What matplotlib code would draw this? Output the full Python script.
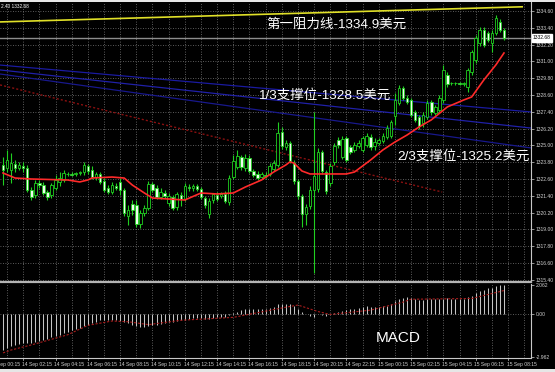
import matplotlib
matplotlib.use("Agg")
import matplotlib.pyplot as plt
import numpy as np
from matplotlib.transforms import blended_transform_factory
from matplotlib.patches import Rectangle

plt.rcParams['font.family'] = ['Liberation Sans', 'Noto Sans CJK SC', 'DejaVu Sans']

# 15-minute XAUUSD bars, 14 Sep 01:00 .. 15 Sep 08:00
opens = [1323.60, 1323.39, 1323.24, 1323.67, 1323.39, 1323.53, 1323.39, 1321.82, 1321.46, 1322.32,
         1322.17, 1321.67, 1321.46, 1321.96, 1322.39, 1322.53, 1322.96, 1322.96, 1322.96, 1323.03,
         1323.10, 1323.53, 1323.24, 1322.74, 1322.96, 1322.46, 1321.96, 1321.67, 1322.10, 1322.39,
         1321.82, 1319.96, 1320.82, 1320.74, 1319.39, 1320.17, 1320.53, 1322.24, 1321.96, 1321.32,
         1321.60, 1320.89, 1321.32, 1320.60, 1321.46, 1321.17, 1322.03, 1321.96, 1322.10, 1321.89,
         1321.24, 1320.10, 1321.10, 1321.46, 1321.39, 1321.53, 1320.96, 1322.74, 1323.46, 1324.17,
         1323.39, 1324.10, 1323.17, 1322.96, 1322.74, 1322.89, 1322.96, 1323.32, 1323.60, 1325.96,
         1324.89, 1325.17, 1323.74, 1322.46, 1321.39, 1320.10, 1320.67, 1321.82, 1321.89, 1324.53,
         1323.10, 1322.32, 1323.82, 1325.39, 1324.17, 1325.53, 1324.89, 1324.67, 1324.96, 1324.67,
         1325.03, 1325.60, 1324.96, 1325.17, 1325.32, 1325.60, 1325.67, 1327.10, 1328.03, 1329.10,
         1328.39, 1328.24, 1327.39, 1327.03, 1326.60, 1327.03, 1328.10, 1327.32, 1327.53, 1328.24,
         1330.03, 1329.46, 1329.43, 1329.46, 1329.39, 1329.17, 1330.25, 1331.10, 1332.32, 1333.24,
         1333.03, 1332.32, 1333.03, 1333.82, 1333.24]
highs = [1324.17, 1324.67, 1324.46, 1323.96, 1323.82, 1323.82, 1323.60, 1322.03, 1322.53, 1322.53,
         1322.39, 1321.82, 1322.32, 1322.89, 1323.10, 1323.24, 1323.10, 1323.10, 1323.10, 1323.17,
         1323.82, 1323.67, 1323.53, 1323.10, 1323.10, 1322.67, 1322.17, 1322.39, 1322.32, 1322.67,
         1321.96, 1320.74, 1321.10, 1321.10, 1320.39, 1320.74, 1322.46, 1322.39, 1322.17, 1321.96,
         1321.82, 1321.60, 1321.46, 1321.67, 1321.67, 1322.32, 1322.24, 1322.24, 1322.24, 1322.03,
         1321.39, 1321.24, 1321.60, 1321.67, 1321.67, 1321.74, 1322.89, 1324.32, 1324.67, 1324.32,
         1324.39, 1324.32, 1323.32, 1323.17, 1323.10, 1323.10, 1323.74, 1323.96, 1326.67, 1326.32,
         1325.39, 1325.32, 1323.96, 1322.60, 1321.53, 1320.82, 1322.10, 1327.39, 1324.82, 1324.67,
         1323.24, 1323.74, 1325.17, 1325.60, 1325.67, 1325.67, 1325.03, 1325.24, 1325.39, 1325.67,
         1325.89, 1325.82, 1325.53, 1325.53, 1325.89, 1326.46, 1326.82, 1328.75, 1329.32, 1329.25,
         1328.60, 1328.39, 1327.53, 1327.17, 1327.39, 1328.24, 1328.24, 1327.89, 1328.60, 1330.75,
         1330.25, 1329.53, 1329.53, 1329.53, 1329.53, 1330.53, 1331.82, 1332.89, 1333.46, 1333.46,
         1333.17, 1333.24, 1334.32, 1334.03, 1333.39]
lows = [1322.17, 1323.10, 1322.32, 1323.10, 1323.24, 1323.10, 1321.67, 1321.10, 1321.24, 1321.96,
        1321.46, 1321.10, 1321.24, 1321.82, 1322.10, 1322.39, 1322.82, 1322.82, 1322.82, 1322.89,
        1322.89, 1322.96, 1322.60, 1322.53, 1322.24, 1321.67, 1321.53, 1321.53, 1321.82, 1321.46,
        1319.96, 1319.32, 1320.03, 1319.17, 1319.10, 1319.96, 1320.39, 1321.67, 1321.17, 1321.17,
        1321.24, 1320.67, 1320.39, 1320.39, 1320.67, 1321.03, 1321.74, 1321.74, 1321.74, 1321.17,
        1320.53, 1319.82, 1320.89, 1321.03, 1321.24, 1320.89, 1320.74, 1322.60, 1323.32, 1323.24,
        1323.17, 1323.03, 1322.74, 1322.53, 1322.60, 1322.67, 1322.82, 1323.17, 1323.46, 1324.74,
        1324.67, 1323.74, 1322.24, 1321.17, 1319.17, 1319.32, 1320.46, 1315.89, 1321.67, 1322.96,
        1321.53, 1322.10, 1323.60, 1324.82, 1324.03, 1323.82, 1324.39, 1324.53, 1324.82, 1324.53,
        1324.89, 1324.67, 1324.67, 1325.03, 1325.17, 1325.46, 1325.53, 1326.46, 1327.89, 1328.24,
        1327.96, 1327.03, 1326.67, 1326.17, 1326.32, 1326.89, 1327.17, 1327.17, 1327.39, 1328.03,
        1329.17, 1329.32, 1329.32, 1329.32, 1329.25, 1328.82, 1330.03, 1330.89, 1332.10, 1332.03,
        1332.39, 1331.67, 1332.89, 1333.10, 1332.53]
closes = [1323.24, 1323.96, 1323.74, 1323.39, 1323.60, 1323.39, 1321.82, 1321.32, 1322.32, 1322.17,
          1321.60, 1321.32, 1322.17, 1322.53, 1322.67, 1323.03, 1322.95, 1322.92, 1323.03, 1323.10,
          1323.60, 1323.17, 1322.74, 1322.96, 1322.39, 1321.82, 1321.67, 1322.17, 1321.96, 1321.82,
          1320.17, 1320.39, 1320.39, 1319.39, 1320.17, 1320.53, 1322.24, 1321.82, 1321.32, 1321.67,
          1321.39, 1321.39, 1320.53, 1321.53, 1321.17, 1322.10, 1321.96, 1322.10, 1321.89, 1321.32,
          1320.74, 1321.03, 1321.53, 1321.17, 1321.53, 1321.03, 1322.67, 1323.89, 1324.24, 1323.46,
          1324.10, 1323.17, 1322.89, 1322.67, 1322.96, 1322.82, 1323.53, 1323.74, 1325.89, 1324.96,
          1325.17, 1323.89, 1322.46, 1321.39, 1320.10, 1320.60, 1321.82, 1322.82, 1324.53, 1323.17,
          1321.74, 1323.53, 1324.96, 1325.03, 1325.46, 1323.96, 1324.53, 1325.03, 1325.17, 1325.53,
          1325.67, 1324.89, 1325.24, 1325.39, 1325.67, 1326.24, 1326.67, 1328.24, 1329.10, 1328.39,
          1328.10, 1327.17, 1326.82, 1326.39, 1327.17, 1328.03, 1327.39, 1327.75, 1328.39, 1330.39,
          1329.39, 1329.43, 1329.46, 1329.39, 1329.46, 1330.39, 1331.67, 1332.68, 1333.24, 1332.17,
          1332.53, 1333.03, 1334.10, 1333.24, 1332.68]

# moving average (red line), sampled at bar indices
ma_bars = [0, 3, 7, 16, 19, 21, 22, 27, 30, 32, 35, 37, 45, 49, 53, 57, 60, 64, 67, 70,
           71, 72, 74, 76, 80, 85, 87, 91, 94, 97, 100, 103, 106, 110, 114, 116, 119, 122, 124]
ma_values = [1323.03, 1322.67, 1322.60, 1322.53, 1322.39, 1322.53, 1322.67, 1322.74, 1322.67, 1322.17,
             1321.60, 1321.24, 1321.10, 1321.60, 1321.53, 1321.60, 1322.03, 1322.53, 1323.10, 1323.60,
             1323.82, 1323.74, 1323.17, 1322.96, 1322.96, 1322.96, 1323.10, 1323.96, 1324.67, 1325.24,
             1325.74, 1326.32, 1326.82, 1327.75, 1328.24, 1328.46, 1329.67, 1330.75, 1331.60]

# MACD main (histogram) per bar
macd = [-2.45, -2.30, -2.20, -2.10, -2.05, -2.00, -1.95, -1.95, -1.90, -1.85,
        -1.75, -1.70, -1.55, -1.45, -1.40, -1.30, -1.20, -1.10, -1.00, -0.90,
        -0.80, -0.70, -0.60, -0.50, -0.40, -0.40, -0.38, -0.38, -0.40, -0.45,
        -0.55, -0.60, -0.70, -0.80, -0.85, -0.85, -0.80, -0.75, -0.70, -0.65,
        -0.60, -0.55, -0.50, -0.45, -0.40, -0.35, -0.30, -0.25, -0.25, -0.25,
        -0.30, -0.30, -0.25, -0.20, -0.20, -0.15, -0.05, 0.10, 0.20, 0.30,
        0.35, 0.40, 0.40, 0.40, 0.40, 0.40, 0.45, 0.50, 0.70, 0.75,
        0.75, 0.70, 0.60, 0.40, 0.20, 0.05, -0.10, -0.15, 0.00, -0.05,
        -0.10, 0.00, 0.10, 0.20, 0.25, 0.30, 0.35, 0.40, 0.45, 0.50,
        0.55, 0.50, 0.50, 0.50, 0.55, 0.60, 0.75, 0.90, 1.05, 1.15,
        1.20, 1.15, 1.05, 1.00, 1.00, 1.05, 1.05, 1.05, 1.05, 1.10,
        1.15, 1.10, 1.10, 1.10, 1.10, 1.20, 1.30, 1.50, 1.60, 1.70,
        1.80, 1.85, 1.95, 2.06, 2.00]
signal_bars = [0, 2, 7, 16, 21, 27, 31, 36, 44, 57, 70, 73, 78, 81, 91, 99, 101, 116, 124]
signal_values = [-2.65, -2.45, -2.10, -1.40, -0.75, -0.45, -0.50, -0.70, -0.40, -0.20,
                 0.50, 0.65, 0.20, 0.00, 0.30, 0.85, 1.05, 1.10, 1.65]

# hand-drawn levels: (start bar, end bar), (start price, end price)
resistance_x, resistance_y = [-0.74, 128.5], [1333.82, 1334.90]
support_x = [-0.74, 130.7]
support1_y = [1330.74, 1327.39]
support2_y = [1330.39, 1326.24]
support3_y = [1330.10, 1324.82]
downtrend_x, downtrend_y = [-0.74, 108.7], [1329.32, 1321.67]

last_price = 1332.68
price_ticks = [1334.60, 1333.40, 1332.20, 1331.00, 1329.80, 1328.60, 1327.40, 1326.20, 1325.00,
               1323.80, 1322.60, 1321.40, 1320.20, 1319.00, 1317.80, 1316.60, 1315.40]
macd_ticks = [2.062, 0.0, -2.962]
macd_tick_labels = ['2.062', '0.00', '-2.962']
time_tick_bars = list(range(-3, 126, 8))
time_labels = ['14 Sep 00:15', '14 Sep 02:15', '14 Sep 04:15', '14 Sep 06:15', '14 Sep 08:15',
               '14 Sep 10:15', '14 Sep 12:15', '14 Sep 14:15', '14 Sep 16:15', '14 Sep 18:15',
               '14 Sep 20:15', '14 Sep 22:15', '15 Sep 00:15', '15 Sep 02:15', '15 Sep 04:15',
               '15 Sep 06:15', '15 Sep 08:15']

GREEN = '#20d020'
GRID = '#7a7a7a'
TXT = '#d0d0d0'

fig = plt.figure(figsize=(5.55, 3.72), dpi=100, facecolor='black')
W, H = 555.0, 372.0
ax = fig.add_axes([0, 90 / H, 531 / W, 280 / H])
axm = fig.add_axes([0, 14 / H, 531 / W, 74 / H], sharex=ax)

xmin, xmax = -0.743, 130.69
for a in (ax, axm):
    a.set_facecolor('black')
    a.set_xlim(xmin, xmax)
    for s in ('top', 'left'):
        a.spines[s].set_visible(False)
    a.spines['right'].set_color('#c8c8c8')
    a.spines['right'].set_linewidth(0.8)
    for b in range(1, 131, 4):
        a.axvline(b, color=GRID, lw=0.6, ls=(0, (1, 2)), zorder=0)
    a.yaxis.tick_right()
    a.tick_params(axis='y', colors=TXT, labelsize=3.6, length=2, width=0.5, pad=1.5)
    a.tick_params(axis='x', length=0, labelbottom=False)

ax.spines['bottom'].set_color('#b4b4b4')
ax.spines['bottom'].set_linewidth(1.6)
axm.spines['bottom'].set_color('#c8c8c8')
axm.spines['bottom'].set_linewidth(0.8)

# ---- price panel ----
ax.set_ylim(1315.243, 1335.243)
ax.set_yticks(price_ticks)
ax.set_yticklabels(['%.2f' % p for p in price_ticks])
for p in price_ticks:
    ax.axhline(p, color=GRID, lw=0.6, ls=(0, (1, 2)), zorder=0)

ax.axhline(last_price, color='#8c8c8c', lw=1.0, zorder=1)

ax.plot(resistance_x, resistance_y, color='#e0e028', lw=1.2, zorder=2)
ax.plot(support_x, support1_y, color='#1a1aa0', lw=0.9, zorder=2)
ax.plot(support_x, support2_y, color='#2020a8', lw=0.9, zorder=2)
ax.plot(support_x, support3_y, color='#18188c', lw=0.9, zorder=2)
ax.plot(downtrend_x, downtrend_y, color='#8a1010', lw=1.0, ls=(0, (1.5, 1.5)), zorder=2)

o = np.array(opens); h = np.array(highs); l = np.array(lows); c = np.array(closes)
bars = np.arange(len(c))
up = c >= o
ax.vlines(bars, l, h, color=GREEN, lw=0.8, zorder=3)
bottom = np.minimum(o, c)
height = np.maximum(np.abs(c - o), 0.015)
ax.bar(bars[up], height[up], bottom=bottom[up], width=0.62, facecolor='black',
       edgecolor=GREEN, linewidth=0.6, zorder=4)
ax.bar(bars[~up], height[~up], bottom=bottom[~up], width=0.62, facecolor='#eefcee',
       edgecolor=GREEN, linewidth=0.6, zorder=4)

ax.plot(ma_bars, ma_values, color='#ff2a2a', lw=1.2, zorder=5)

tr = blended_transform_factory(ax.transAxes, ax.transData)
ax.text(1.004, last_price, '%.2f' % last_price, transform=tr, fontsize=3.6, color='black',
        va='center', ha='left', zorder=10,
        bbox=dict(facecolor='white', edgecolor='white', boxstyle='square,pad=0.25'))

# ---- MACD panel ----
axm.set_ylim(-3.0, 2.1)
axm.set_yticks(macd_ticks)
axm.set_yticklabels(macd_tick_labels)
axm.axhline(0, color=GRID, lw=0.6, ls=(0, (1, 2)), zorder=0)
axm.vlines(bars, 0, macd, color='#c4c4c4', lw=0.75, zorder=3)
axm.plot(signal_bars, signal_values, color='#a81c1c', lw=0.8, ls=(0, (2, 1.5)), zorder=4)

# time axis labels sit to the right of their grid line
trm = blended_transform_factory(axm.transData, axm.transAxes)
for b, lab in zip(time_tick_bars, time_labels):
    axm.text(b - 0.3, -0.06, lab, transform=trm, fontsize=3.6, color=TXT,
             ha='left', va='top', clip_on=False)
    axm.plot([b, b], [0, -0.03], transform=trm, color=TXT, lw=0.5, clip_on=False)

# ---- annotations ----
ann = dict(color='white', fontsize=9.7, va='center', ha='left')
fig.text(266 / W, 1 - 25 / H, '第一阻力线-1334.9美元', **ann)
fig.text(258 / W, 1 - 95 / H, '1/3支撑位-1328.5美元', **ann)
fig.text(397 / W, 1 - 156 / H, '2/3支撑位-1325.2美元', **ann)
fig.text(376 / W, 1 - 338 / H, 'MACD', color='white', fontsize=11, va='center', ha='left')
fig.text(1 / W, 1 - 6 / H, '2.40 1332.68', color='white', fontsize=3.4, va='center', ha='left')

# thin light frame strips at top and bottom of the window
fig.patches.append(Rectangle((0, 1 - 2 / H), 1, 2 / H, transform=fig.transFigure,
                             facecolor='#e6e6e6', edgecolor='none'))
fig.patches.append(Rectangle((0, 0), 1, 3 / H, transform=fig.transFigure,
                             facecolor='#e6e6e6', edgecolor='none'))

fig.savefig('out.png', dpi=100, facecolor='black')
